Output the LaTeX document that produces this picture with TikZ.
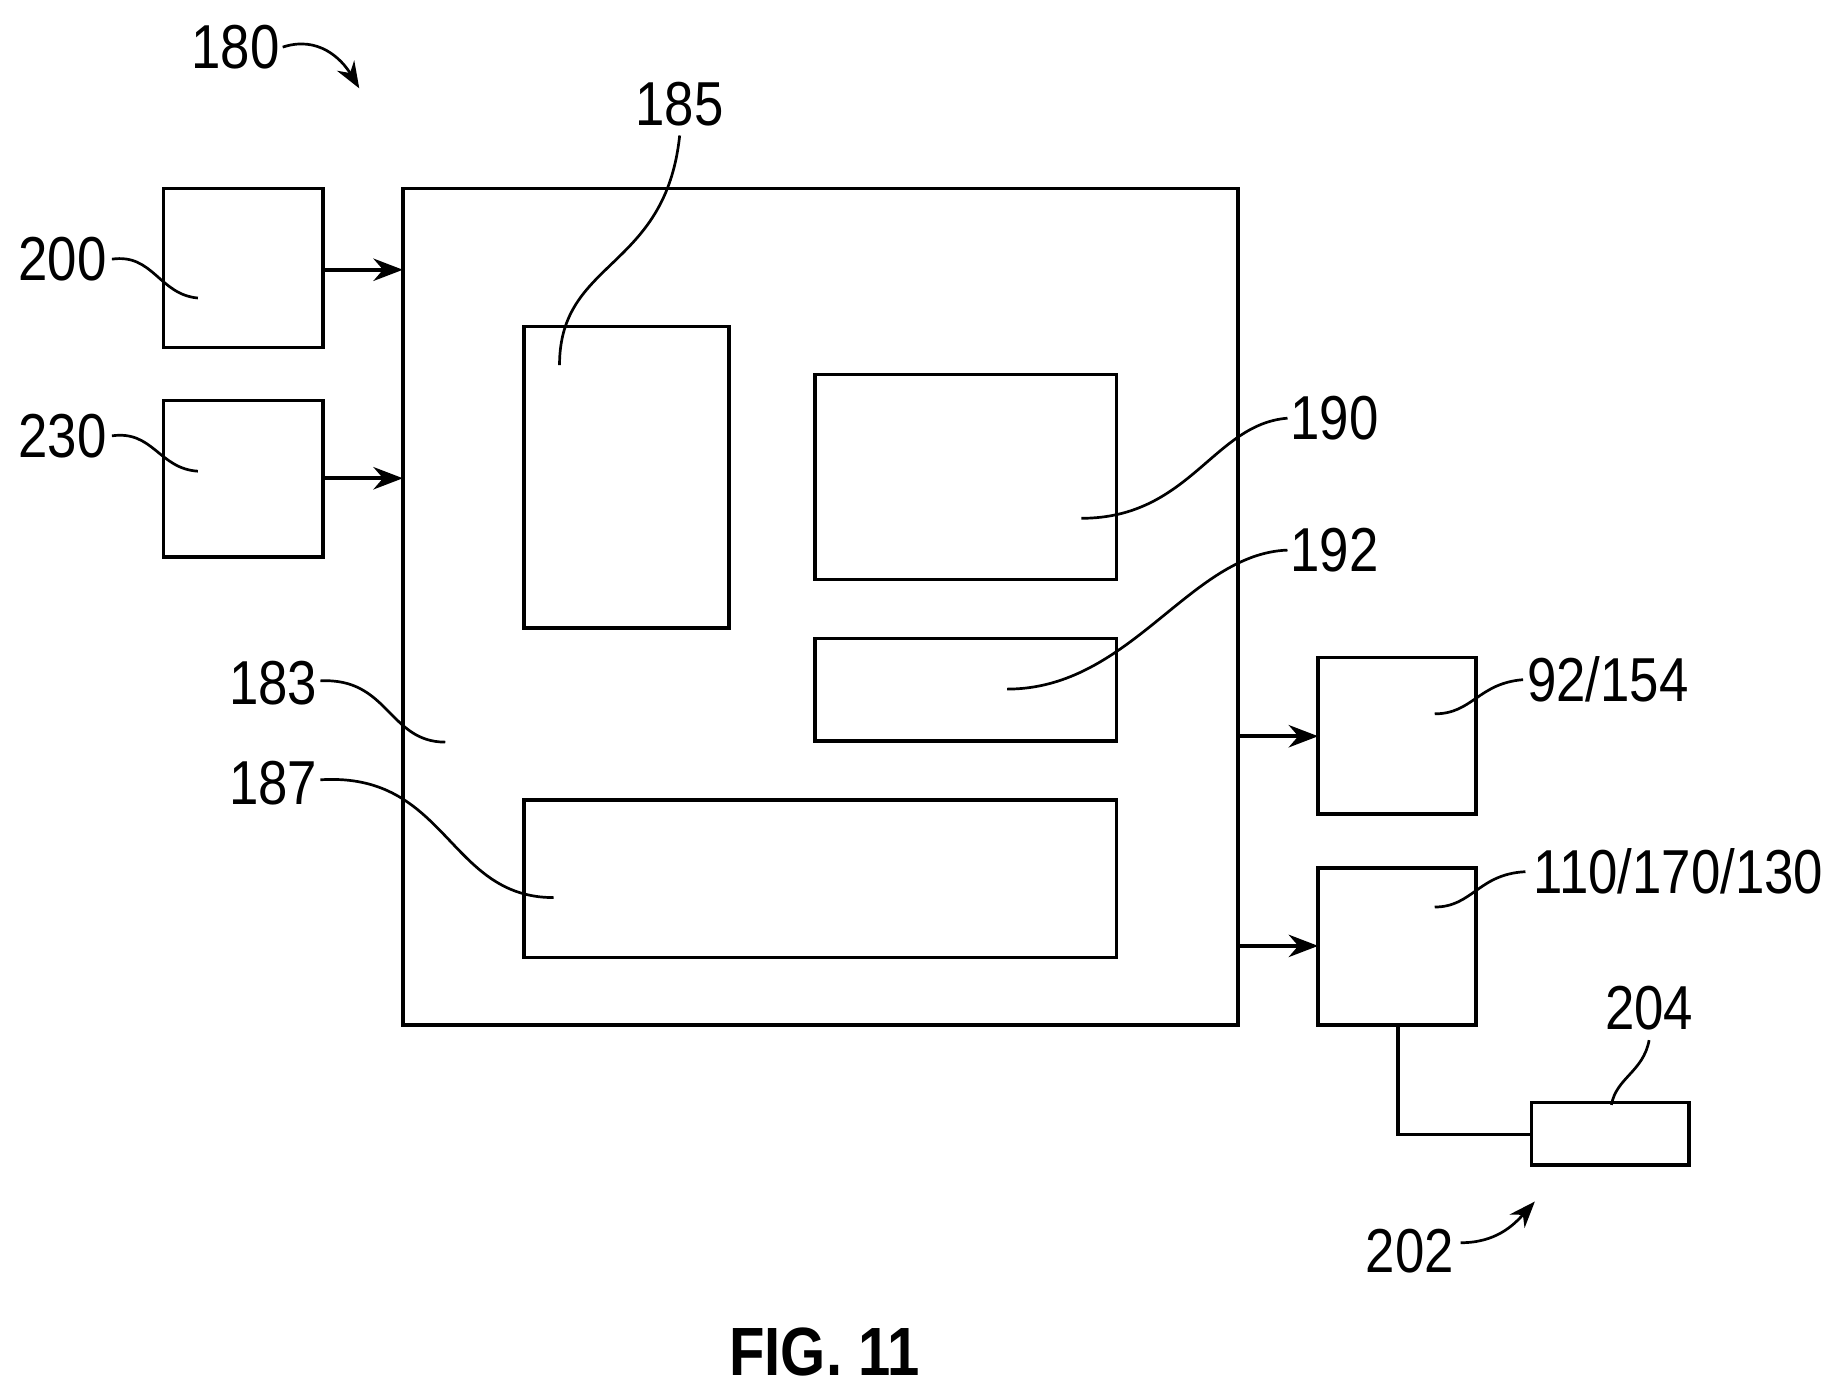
\documentclass[tikz,border=0pt]{standalone}
\usepackage{fontspec}
\setmainfont{Liberation Sans}[FakeStretch=0.85]
\usetikzlibrary{arrows.meta}
\begin{document}
\begin{tikzpicture}[x=0.02cm,y=-0.02cm,
  box/.style={draw,line width=1.7pt},
  conn/.style={line width=1.7pt,-{Stealth[length=0.5cm,width=0.38cm]}},
  lead/.style={line width=1.3pt},
  lbl/.style={font=\fontsize{30}{30}\selectfont,inner sep=0pt}]
\useasboundingbox (0,0) rectangle (1568,1188);
\draw[box] (139,160) rectangle (274,295);
\draw[box] (139,340) rectangle (274,473);
\draw[box] (342,160) rectangle (1051,870);
\draw[box] (445,277) rectangle (619,533);
\draw[box] (692,318) rectangle (948,492);
\draw[box] (692,542) rectangle (948,629);
\draw[box] (445,679) rectangle (948,813);
\draw[box] (1119,558) rectangle (1253,691);
\draw[box] (1119,737) rectangle (1253,870);
\draw[box] (1300,936) rectangle (1434,989);
\coordinate (a1) at (274,229); \coordinate (a1e) at (342,229);
\coordinate (a2) at (274,406); \coordinate (a2e) at (342,406);
\coordinate (a3) at (1051,625); \coordinate (a3e) at (1119,625);
\coordinate (a4) at (1051,803); \coordinate (a4e) at (1119,803);
\draw[conn] (a1) -- (a1e);
\draw[conn] (a2) -- (a2e);
\draw[conn] (a3) -- (a3e);
\draw[conn] (a4) -- (a4e);
\coordinate (c1) at (1187,870); \coordinate (c2) at (1300,963);
\draw[line width=1.7pt] (c1) |- (c2);
\node[lbl] (l180) at (200,40) {180};
\node[lbl] (l185) at (577,88) {185};
\node[lbl] (l200) at (53,220) {200};
\node[lbl] (l230) at (53,370) {230};
\node[lbl] (l190) at (1133,355) {190};
\node[lbl] (l192) at (1133,467) {192};
\node[lbl] (l183) at (232,580) {183};
\node[lbl] (l187) at (232,665) {187};
\node[lbl] (l92) at (1365,577) {92/154};
\node[lbl] (l110) at (1425,740) {110/170/130};
\node[lbl] (l204) at (1400,856) {204};
\node[lbl] (l202) at (1197,1062) {202};
\node[font=\bfseries\fontsize{33}{33}\selectfont,inner sep=0pt] (fig) at (700,1148) {FIG. 11};
\draw[lead,-{Stealth[length=0.45cm,width=0.34cm]}] (240,40) .. controls (270,30) and (290,50) .. (305,75);
\draw[lead,-{Stealth[length=0.45cm,width=0.34cm]}] (1240,1055) .. controls (1270,1055) and (1285,1040) .. (1303,1020);
\draw[lead] (577,115) .. controls (565,230) and (475,220) .. (475,310);
\draw[lead] (95,220) .. controls (130,215) and (135,250) .. (168,253);
\draw[lead] (95,370) .. controls (130,365) and (135,398) .. (168,400);
\draw[lead] (1093,355) .. controls (1030,360) and (1010,440) .. (918,440);
\draw[lead] (1093,467) .. controls (1010,470) and (960,585) .. (855,585);
\draw[lead] (272,578) .. controls (330,575) and (330,630) .. (378,630);
\draw[lead] (272,662) .. controls (380,655) and (380,762) .. (470,762);
\draw[lead] (1293,577) .. controls (1255,580) and (1250,606) .. (1218,606);
\draw[lead] (1295,740) .. controls (1255,742) and (1250,770) .. (1218,770);
\draw[lead] (1400,883) .. controls (1395,910) and (1372,915) .. (1368,938);
\end{tikzpicture}
\end{document}
